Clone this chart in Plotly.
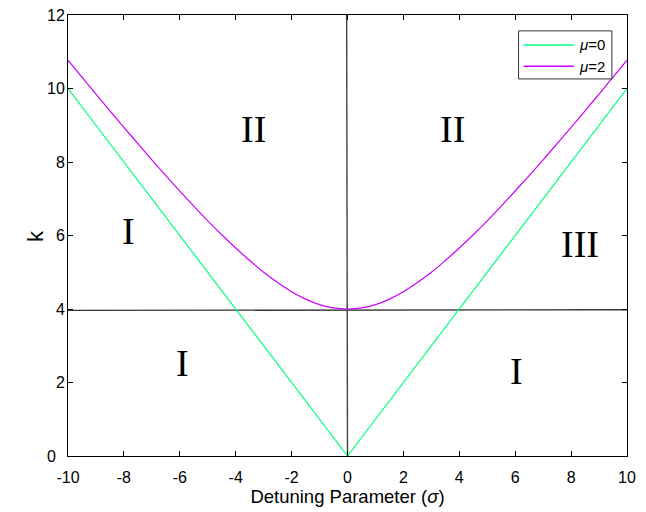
import plotly.graph_objects as go

# Data
sigma_v = [-10, 0, 10]
k_mu0 = [10.0, 0.0, 10.0]

sigma_c = [-10, -9.5, -9, -8.5, -8, -7.5, -7, -6.5, -6, -5.5, -5, -4.5, -4, -3.5, -3, -2.5, -2, -1.5, -1, -0.5,
           0, 0.5, 1, 1.5, 2, 2.5, 3, 3.5, 4, 4.5, 5, 5.5, 6, 6.5, 7, 7.5, 8, 8.5, 9, 9.5, 10]
k_mu2 = [10.77, 10.31, 9.85, 9.39, 8.94, 8.50, 8.06, 7.63, 7.21, 6.80, 6.40, 6.02, 5.66, 5.32, 5.00, 4.72, 4.47, 4.27, 4.12, 4.03,
         4.00, 4.03, 4.12, 4.27, 4.47, 4.72, 5.00, 5.32, 5.66, 6.02, 6.40, 6.80, 7.21, 7.63, 8.06, 8.50, 8.94, 9.39, 9.85, 10.31, 10.77]

hline_x = [-10, 10]
hline_k = [3.96, 3.98]
vline_x = [0, -0.03]
vline_k = [0, 12]

region_labels = ["II", "II", "I", "III", "I", "I"]
region_x = [-3.38, 3.77, -7.85, 8.32, -5.90, 6.06]
region_k = [8.90, 8.90, 6.12, 5.77, 2.54, 2.31]

xticks = [-10, -8, -6, -4, -2, 0, 2, 4, 6, 8, 10]
yticks = [0, 2, 4, 6, 8, 10, 12]
ytick_text = ["0\u00a0\u00a0", "2", "4", "6", "8", "10", "12"]

legend_names = ["<i>μ</i>=0", "<i>μ</i>=2"]

green = "rgb(0,255,128)"
purple = "rgb(204,0,255)"
sans = "Liberation Sans, Arial, sans-serif"

fig = go.Figure()
fig.add_trace(go.Scatter(x=hline_x, y=hline_k, mode="lines", line=dict(color="#333333", width=1.3),
                         showlegend=False, hoverinfo="skip"))
fig.add_trace(go.Scatter(x=vline_x, y=vline_k, mode="lines", line=dict(color="#444444", width=1.4),
                         showlegend=False, hoverinfo="skip"))
fig.add_trace(go.Scatter(x=sigma_v, y=k_mu0, mode="lines", line=dict(color=green, width=1.2),
                         name=legend_names[0], showlegend=False))
fig.add_trace(go.Scatter(x=sigma_c, y=k_mu2, mode="lines", line=dict(color=purple, width=1.2, shape="spline"),
                         name=legend_names[1], showlegend=False))

for lab, x, y in zip(region_labels, region_x, region_k):
    fig.add_annotation(x=x, y=y, text=lab, showarrow=False,
                       font=dict(family="Liberation Serif, Times New Roman, serif", size=38, color="black"),
                       xanchor="center", yanchor="middle")

# Hand-drawn legend box (MATLAB style)
fig.add_shape(type="rect", xref="paper", yref="paper", x0=0.806, x1=0.973, y0=0.855, y1=0.964,
              line=dict(color="#333333", width=1), fillcolor="white", layer="above")
for name, col, yy in zip(legend_names, [green, purple], [0.932, 0.884]):
    fig.add_shape(type="line", xref="paper", yref="paper", x0=0.815, x1=0.905, y0=yy, y1=yy,
                  line=dict(color=col, width=1.5), layer="above")
    fig.add_annotation(xref="paper", yref="paper", x=0.911, y=yy, text=name, showarrow=False,
                       xanchor="left", yanchor="middle", font=dict(family=sans, size=15, color="black"))

# y-axis title
fig.add_annotation(xref="paper", yref="paper", x=-0.0572, y=0.499, text="k", showarrow=False,
                   textangle=-90, xanchor="center", yanchor="middle",
                   font=dict(family=sans, size=22, color="black"))

axis_common = dict(showgrid=False, zeroline=False, showline=True, linecolor="black", linewidth=1,
                   mirror="ticks", ticks="inside", ticklen=5, tickcolor="black", tickwidth=1,
                   tickfont=dict(family=sans, size=16, color="black"), automargin=False)

fig.update_xaxes(range=[-10, 10], tickvals=xticks, ticktext=[str(t) for t in xticks],
                 ticklabelstandoff=7,
                 title=dict(text="Detuning Parameter (<i>σ</i>)",
                            font=dict(family=sans, size=18.5, color="black"),
                            standoff=0),
                 **axis_common)
fig.update_yaxes(range=[0, 12], tickvals=yticks, ticktext=ytick_text,
                 ticklabelstandoff=-1,
                 **axis_common)

fig.update_layout(
    width=646, height=512,
    margin=dict(l=68, r=19, t=15, b=56),
    plot_bgcolor="white", paper_bgcolor="white",
    showlegend=False,
)

fig.write_html("out.html")
